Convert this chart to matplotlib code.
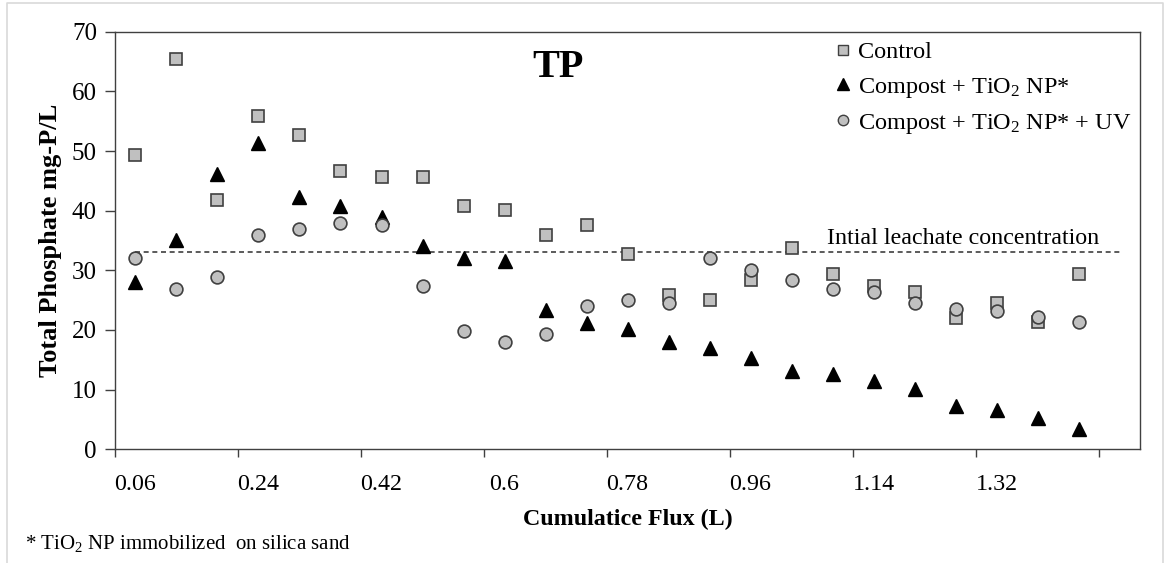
import matplotlib
matplotlib.use('Agg')
import matplotlib.pyplot as plt
from matplotlib.lines import Line2D

plt.rcParams['font.family'] = ['Liberation Serif', 'DejaVu Serif']
plt.rcParams['mathtext.fontset'] = 'custom'
plt.rcParams['mathtext.rm'] = 'Liberation Serif'
plt.rcParams['mathtext.it'] = 'Liberation Serif:italic'
plt.rcParams['mathtext.bf'] = 'Liberation Serif:bold'

# cumulative flux (L), one value per sampling
flux = [0.06, 0.12, 0.18, 0.24, 0.30, 0.36, 0.42, 0.48, 0.54, 0.60, 0.66, 0.72,
        0.78, 0.84, 0.90, 0.96, 1.02, 1.08, 1.14, 1.20, 1.26, 1.32, 1.38, 1.44]

control = [49.4, 65.4, 41.8, 55.8, 52.6, 46.6, 45.6, 45.6, 40.8, 40.1, 35.9, 37.6,
           32.7, 25.9, 25.1, 28.3, 33.8, 29.3, 27.3, 26.3, 22.0, 24.5, 21.4, 29.3]
compost_tio2 = [28.1, 35.0, 46.1, 51.4, 42.3, 40.7, 39.0, 34.0, 32.0, 31.6, 23.4, 21.2,
                20.2, 18.0, 16.9, 15.3, 13.2, 12.6, 11.5, 10.1, 7.3, 6.6, 5.2, 3.4]
compost_tio2_uv = [32.1, 26.8, 28.9, 35.9, 36.9, 38.0, 37.6, 27.3, 19.8, 17.9, 19.3, 24.1,
                   25.1, 24.5, 32.1, 30.1, 28.3, 26.8, 26.3, 24.5, 23.5, 23.2, 22.1, 21.3]

initial_conc = 33.0
initial_span = [0.06, 1.50]

x_label_vals = [0.06, 0.24, 0.42, 0.60, 0.78, 0.96, 1.14, 1.32]
x_label_text = ['0.06', '0.24', '0.42', '0.6', '0.78', '0.96', '1.14', '1.32']
x_tick_marks = [0.03, 0.21, 0.39, 0.57, 0.75, 0.93, 1.11, 1.29, 1.47]
y_ticks = [0, 10, 20, 30, 40, 50, 60, 70]

EDGE = '#404040'
FILL = '#c0c0c0'


def main():
    fig = plt.figure(figsize=(11.67, 5.63), dpi=100)
    ax = fig.add_axes([0.0985, 0.202, 0.8785, 0.7417])

    ax.plot(initial_span, [initial_conc, initial_conc], color=EDGE, lw=1.2,
            linestyle=(0, (3, 2.2)), zorder=1)
    ax.text(1.47, initial_conc + 0.6, 'Intial leachate concentration',
            ha='right', va='bottom', fontsize=17.3)

    ax.plot(flux, control, 's', ms=8.8, mfc=FILL, mec=EDGE, mew=1.2,
            linestyle='none', zorder=3)
    ax.plot(flux, compost_tio2, '^', ms=9.8, mfc='black', mec='black',
            linestyle='none', zorder=4)
    ax.plot(flux, compost_tio2_uv, 'o', ms=9.2, mfc=FILL, mec=EDGE, mew=1.2,
            linestyle='none', zorder=5)

    ax.set_xlim(0.03, 1.53)
    ax.set_ylim(0, 70)

    ax.set_xticks(x_tick_marks)
    ax.set_xticklabels([])
    ax.set_xticks(x_label_vals, minor=True)
    ax.set_xticklabels(x_label_text, minor=True, fontsize=17.3)
    ax.tick_params(axis='x', which='major', direction='out', length=6,
                   width=1, color=EDGE)
    ax.tick_params(axis='x', which='minor', length=0, pad=18)

    ax.set_yticks(y_ticks)
    ax.set_yticklabels([str(v) for v in y_ticks], fontsize=18)
    ax.tick_params(axis='y', direction='out', length=7, width=1, color=EDGE, pad=6)

    for s in ax.spines.values():
        s.set_color(EDGE)
        s.set_linewidth(1.0)

    ax.set_xlabel('Cumulatice Flux (L)', fontsize=17.3, fontweight='bold', labelpad=10)
    ax.set_ylabel('Total Phosphate mg-P/L', fontsize=19, fontweight='bold', labelpad=7)

    ax.text(0.432, 0.915, 'TP', transform=ax.transAxes, ha='center', va='center',
            fontsize=29, fontweight='bold')

    handles = [
        Line2D([], [], marker='s', ms=7.5, mfc=FILL, mec=EDGE, mew=1.0, linestyle='none'),
        Line2D([], [], marker='^', ms=8, mfc='black', mec='black', linestyle='none'),
        Line2D([], [], marker='o', ms=7.5, mfc=FILL, mec=EDGE, mew=1.0, linestyle='none'),
    ]
    labels = ['Control', r'Compost + TiO$_\mathrm{2}$ NP*',
              r'Compost + TiO$_\mathrm{2}$ NP* + UV']
    ax.legend(handles, labels, loc='upper left', bbox_to_anchor=(0.694, 1.0),
              frameon=False, fontsize=17.5, handlelength=0.6, handletextpad=0.3,
              labelspacing=0.5, borderaxespad=0)

    fig.text(25 / 1167, 1 - 543 / 563, r'* TiO$_\mathrm{2}$ NP immobilized  on silica sand',
             ha='left', va='center', fontsize=15)

    # light frame around the chart area
    fig.add_artist(Line2D([7 / 1167, 7 / 1167, 1163 / 1167, 1163 / 1167],
                          [0, 1 - 3 / 563, 1 - 3 / 563, 0],
                          transform=fig.transFigure, color='#d9d9d9', lw=1.2))

    fig.savefig('out.png', dpi=100)


if __name__ == '__main__':
    main()
